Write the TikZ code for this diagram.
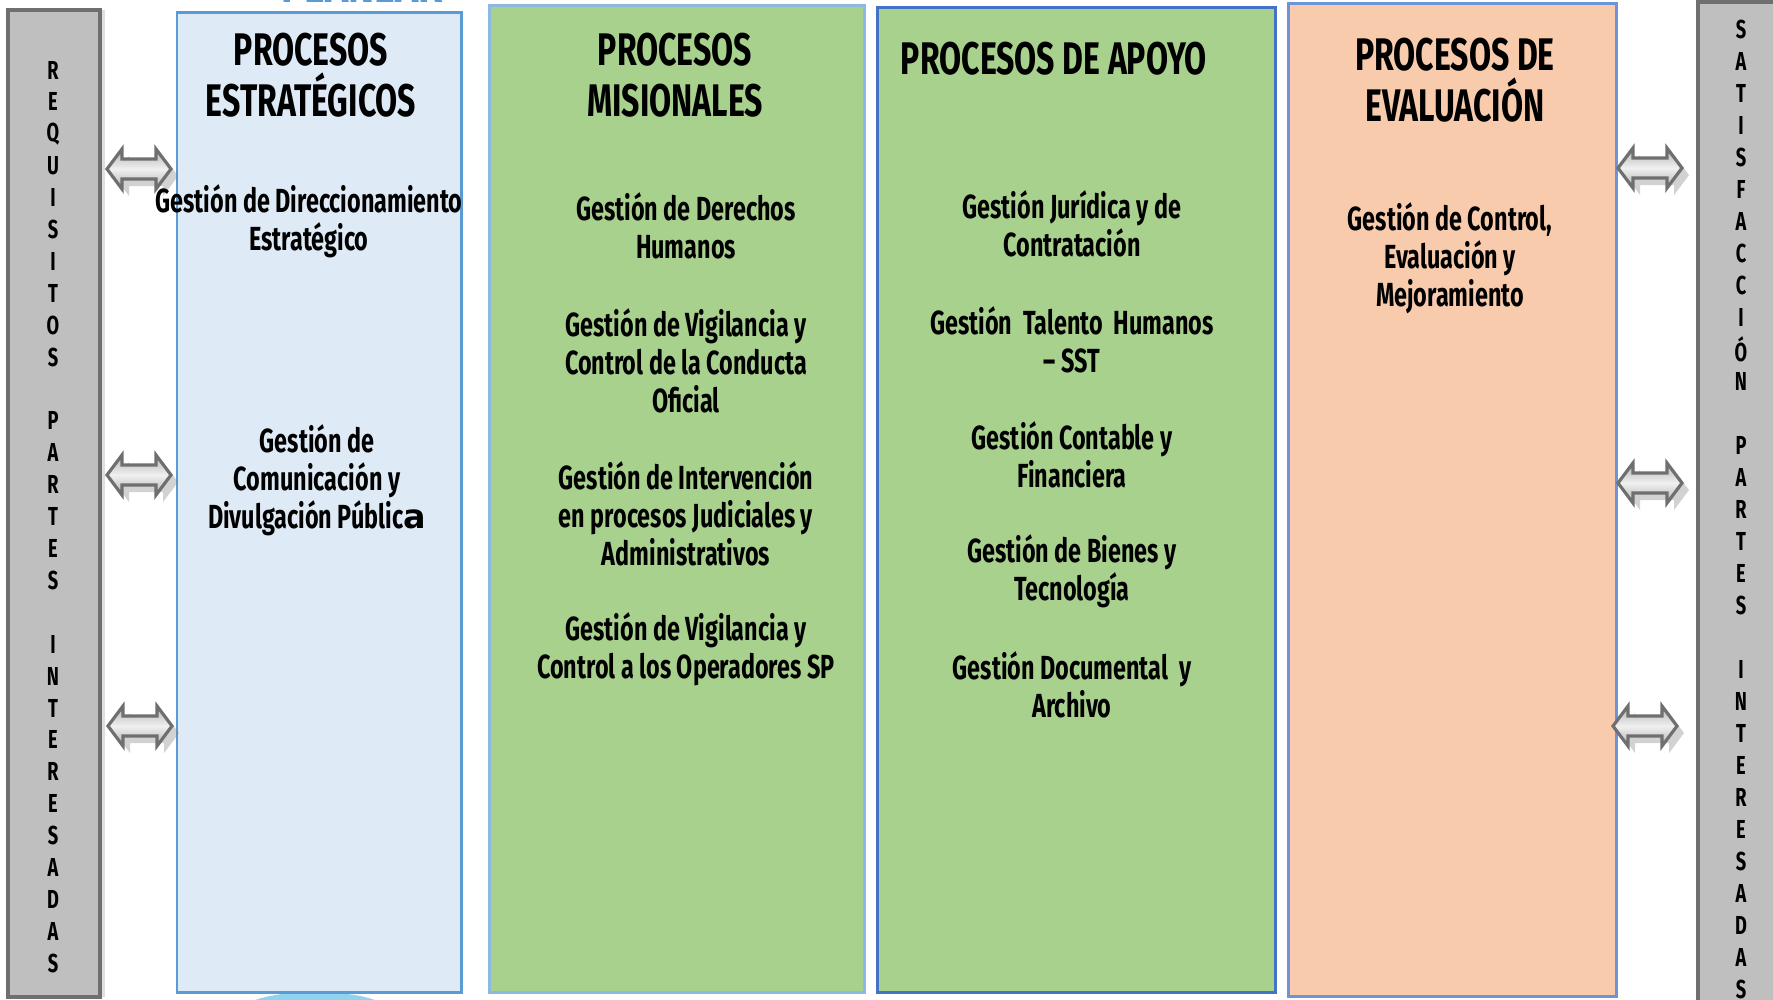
\documentclass[tikz,border=0pt]{standalone}
\usepackage{fontspec}
\setmainfont{Fira Sans}[FakeStretch=0.70]
\newfontfamily\wideface{DejaVu Sans}
\usetikzlibrary{shadows}

\definecolor{barfill}{HTML}{BFBFBF}
\definecolor{barline}{HTML}{6F6F6F}
\definecolor{stratfill}{HTML}{DEEAF6}
\definecolor{stratline}{HTML}{5B9BD5}
\definecolor{greenfill}{HTML}{A9D18E}
\definecolor{misline}{HTML}{8DB8E2}
\definecolor{apoline}{HTML}{4472C4}
\definecolor{evalfill}{HTML}{F8CBAD}
\definecolor{evalline}{HTML}{6D93D8}
\definecolor{cyclecyan}{HTML}{8FD3EE}

\tikzset{
  dblarrow/.pic={
    \path[draw=barline, line width=0.9pt, top color=gray!60, bottom color=gray!60, middle color=gray!12,
          drop shadow={shadow xshift=2pt, shadow yshift=-2pt, opacity=0.35}]
      (-32,0) -- (-17,-20) -- (-17,-10) -- (17,-10) -- (17,-20) -- (32,0)
      -- (17,20) -- (17,10) -- (-17,10) -- (-17,20) -- cycle;
  }
}

\begin{document}
\begin{tikzpicture}[x=0.01cm, y=-0.01cm,
    graybar/.style={fill=barfill, draw=barline, line width=1pt,
                    drop shadow={shadow xshift=1.5pt, shadow yshift=0pt, opacity=0.25}},
    proc/.style={line width=0.85pt},
    title/.style={align=center, font=\fontsize{13}{14.5}\selectfont\bfseries, inner sep=0pt},
    item/.style={align=center, font=\fontsize{9.5}{10.8}\selectfont\bfseries, inner sep=0pt},
    letter/.style={font=\fontsize{7.4}{8}\selectfont\bfseries, inner sep=0pt}]
  \useasboundingbox (0,0) rectangle (1773,999);
  \clip (0,0) rectangle (1773,999);
  \fill[white] (0,0) rectangle (1773,999);

  % side bars
  \path[graybar] (8,10) rectangle (100,997);
  \path[graybar] (1698,2) rectangle (1790,1010);

  % process columns
  \fill[cyclecyan] (315,1012) ellipse[x radius=75, y radius=20];
  \path[proc, fill=stratfill, draw=stratline] (177,12) rectangle (461,992);
  \path[proc, fill=greenfill, draw=misline] (489,5) rectangle (864,992);
  \path[proc, fill=greenfill, draw=apoline] (877,7) rectangle (1275,992);
  \path[proc, fill=evalfill, draw=evalline] (1288,3) rectangle (1616,996);

  \node[anchor=base, text=stratline, font=\fontsize{16}{16}\selectfont\bfseries, inner sep=0pt] (planear) at (362,2) {PLANEAR};

  % vertical letters
  \foreach \ch [count=\i] in {R,E,Q,U,I,S,I,T,O,S,,P,A,R,T,E,S,,I,N,T,E,R,E,S,A,D,A,S}
    \node[letter] (req-\i) at (53,{70+31.9*(\i-1)}) {\ch};
  \foreach \ch [count=\i] in {S,A,T,I,S,F,A,C,C,I,Ó,N,,P,A,R,T,E,S,,I,N,T,E,R,E,S,A,D,A,S}
    \node[letter] (sat-\i) at (1741,{29+32*(\i-1)}) {\ch};

  % arrows
  \pic (arrL1) at (139,169) {dblarrow};
  \pic (arrL2) at (139,475) {dblarrow};
  \pic (arrL3) at (140,726) {dblarrow};
  \pic (arrR1) at (1650,168) {dblarrow};
  \pic (arrR2) at (1650,483) {dblarrow};
  \pic (arrR3) at (1645,726) {dblarrow};

  % estrategicos
  \node[title] (estr) at (311,75) {PROCESOS\\ESTRATÉGICOS};
  \node[item] (direc) at (309,221) {Gestión de Direccionamiento\\Estratégico};
  \node[item] (comun) at (317,480) {Gestión de\\Comunicación y\\Divulgación Públic{\wideface\bfseries a}};

  % misionales
  \node[title] (mis) at (675,75) {PROCESOS\\MISIONALES};
  \node[item] (ddhh) at (686,226) {Gestión de Derechos\\Humanos};
  \node[item] (vigil) at (686,361) {Gestión de Vigilancia y\\Control de la Conducta\\Oficial};
  \node[item] (interv) at (686,514) {Gestión de Intervención\\en procesos Judiciales y\\Administrativos};
  \node[item] (oper) at (686,649) {Gestión de Vigilancia y\\Control a los Operadores SP};

  % apoyo
  \node[title] (apoyo) at (1054,59) {PROCESOS DE APOYO};
  \node[item] (jurid) at (1072,224) {Gestión Jurídica y de\\Contratación};
  \node[item] (talento) at (1072,340) {Gestión\ \ Talento\ \ Humanos\\– SST};
  \node[item] (contab) at (1072,455) {Gestión Contable y\\Financiera};
  \node[item] (bienes) at (1072,571) {Gestión de Bienes y\\Tecnología};
  \node[item] (docum) at (1072,685) {Gestión Documental\ \ y\\Archivo};

  % evaluacion
  \node[title] (eval) at (1455,80) {PROCESOS DE\\EVALUACIÓN};
  \node[item] (control) at (1450,258) {Gestión de Control,\\Evaluación y\\Mejoramiento};
\end{tikzpicture}
\end{document}
